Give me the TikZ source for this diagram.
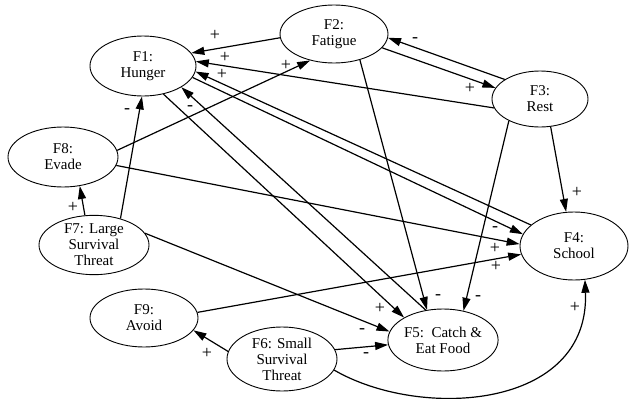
\documentclass[tikz,border=0pt]{standalone}
\usepackage{fontspec}
\setmainfont{Liberation Serif}
\usetikzlibrary{shapes.geometric,arrows.meta}
\begin{document}
\begin{tikzpicture}[x=1pt,y=-1pt,
  fac/.style={ellipse,draw,line width=0.9pt,inner sep=0pt,align=center,
    font=\fontsize{15}{16}\selectfont},
  arr/.style={line width=1.2pt,-{Triangle[length=13pt,width=8pt]}},
  sg/.style={font=\fontsize{18}{18}\selectfont,inner sep=0pt}]
\useasboundingbox (0,0) rectangle (630,399);
\node[fac,minimum width=106pt,minimum height=60pt] (F1) at (143,66) {F1:\\Hunger};
\node[fac,minimum width=108pt,minimum height=58pt] (F2) at (334,34) {F2:\\Fatigue};
\node[fac,minimum width=96pt,minimum height=56pt] (F3) at (540,99) {F3:\\Rest};
\node[fac,minimum width=108pt,minimum height=68pt] (F4) at (574,246) {F4:\\School};
\node[fac,minimum width=108pt,minimum height=62pt] (F5) at (443,340) {F5:\ \ Catch \&\\Eat Food};
\node[fac,minimum width=110pt,minimum height=64pt] (F6) at (282,359) {F6: Small\\Survival\\Threat};
\node[fac,minimum width=110pt,minimum height=56pt] (F7) at (94,245) {F7: Large\\Survival\\Threat};
\node[fac,minimum width=110pt,minimum height=60pt] (F8) at (63,157) {F8:\\Evade};
\node[fac,minimum width=108pt,minimum height=58pt] (F9) at (144,318) {F9:\\Avoid};

\draw[arr] (F2.184) -- (F1.15);
\draw[arr] (F3.191) -- (F1.5);
\draw[arr] (F4.154) -- (F1.-6);
\draw[arr] (F1.-13) -- (F4.167);
\draw[arr] (F8.7) -- (F2.228);
\draw[arr] (F7.45) -- (F1.-92);
\draw[arr] (F5.120) -- (F1.-29);
\draw[arr] (F1.-54) -- (F5.150);
\draw[arr] (F2.-16) -- (F3.166);
\draw[arr] (F3.151) -- (F2.-4);
\draw[arr] (F2.-45) -- (F5.118);
\draw[arr] (F3.215) -- (F5.55);
\draw[arr] (F3.-69) -- (F4.103);
\draw[arr] (F8.-9) -- (F4.178);
\draw[arr] (F9.6) -- (F4.189);
\draw[arr] (F7.13) -- (F5.171);
\draw[arr] (F6.10) -- (F5.185);
\draw[arr] (F6.172) -- (F9.-14);
\draw[arr] (F6.-12) .. controls (420,420) and (590,410) .. (F4.-72);
\draw[arr] (F7.107) -- (F8.-60);

\node[sg] (s1) at (215,35) {+};
\node[sg] (s2) at (225,57) {+};
\node[sg] (s3) at (222,74) {+};
\node[sg] (s4) at (495,229) {-};
\node[sg] (s5) at (286,65) {+};
\node[sg] (s6) at (127,111) {-};
\node[sg] (s7) at (190,108) {-};
\node[sg] (s8) at (380,308) {+};
\node[sg] (s9) at (470,88) {+};
\node[sg] (s10) at (415,40) {-};
\node[sg] (s11) at (438,297) {-};
\node[sg] (s12) at (478,298) {-};
\node[sg] (s13) at (577,192) {+};
\node[sg] (s14) at (495,248) {+};
\node[sg] (s15) at (496,266) {+};
\node[sg] (s16) at (362,331) {-};
\node[sg] (s17) at (366,355) {-};
\node[sg] (s18) at (207,353) {+};
\node[sg] (s19) at (575,307) {+};
\node[sg] (s20) at (73,207) {+};
\end{tikzpicture}
\end{document}
